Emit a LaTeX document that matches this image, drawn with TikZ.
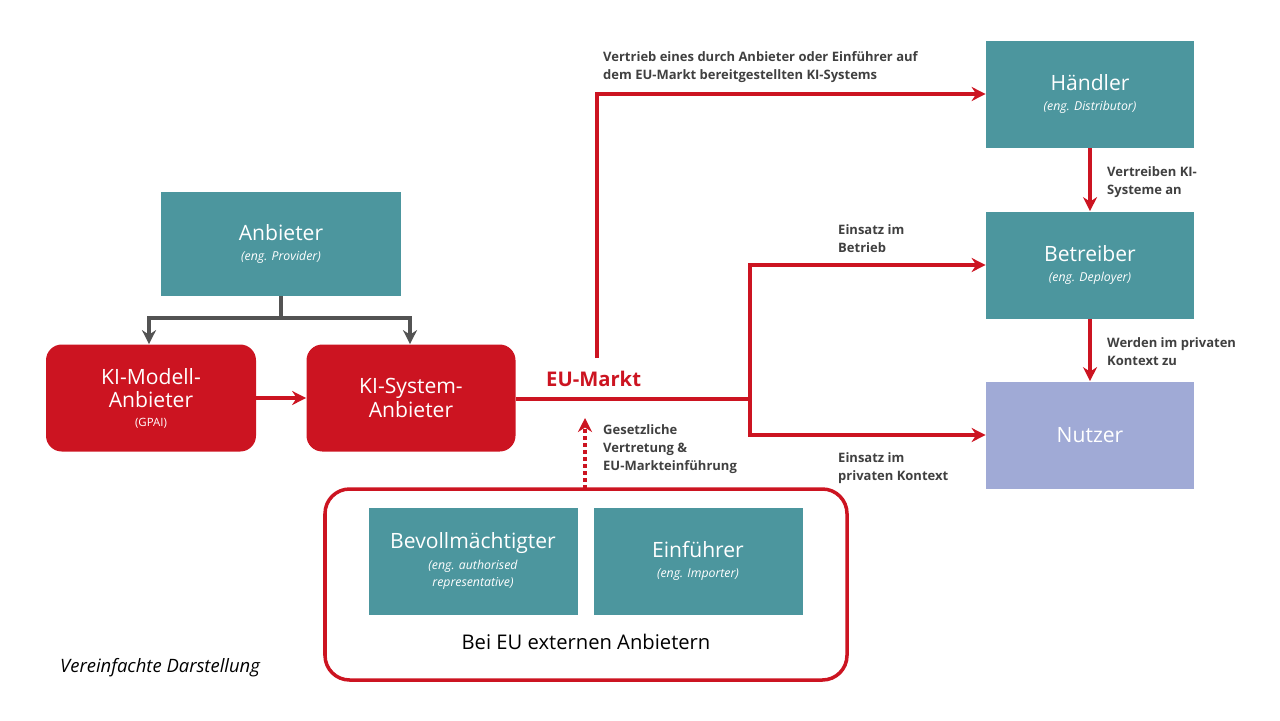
\documentclass[tikz,border=0pt]{standalone}
\usepackage{fontspec}
\setmainfont{Open Sans}
\usetikzlibrary{arrows.meta}
\definecolor{teal}{HTML}{4C969E}
\definecolor{kired}{HTML}{CC1421}
\definecolor{lav}{HTML}{A0AAD6}
\definecolor{txt}{HTML}{404040}
\newcommand\subtx{\fontsize{7}{8.5}\selectfont\itshape}
\begin{document}
\begin{tikzpicture}[x=0.02cm,y=-0.02cm,
 box/.style={fill=teal,draw=none,text=white,align=center,font=\fontsize{12}{13}\selectfont},
 rbox/.style={fill=kired,draw=none,rounded corners=9pt,text=white,align=center,font=\fontsize{12}{13.5}\selectfont},
 lab/.style={anchor=north west,align=left,text=txt,font=\fontsize{7.4}{10.5}\selectfont\bfseries},
 rl/.style={draw=kired,line width=2pt,-{Stealth[length=8pt,width=8pt]}},
 gl/.style={draw=txt!90,line width=2pt,-{Stealth[length=8pt,width=8pt]}}]
\useasboundingbox (0,0) rectangle (1280,720);
\node[box,minimum width=240*0.02cm,minimum height=104*0.02cm] (anb) at (281,244) {Anbieter\\[-2pt]{\subtx(eng. Provider)}};
\node[rbox,minimum width=210*0.02cm,minimum height=107*0.02cm] (mod) at (151,398) {KI-Modell-\\Anbieter\\[-3pt]{\fontsize{6.5}{7}\selectfont(GPAI)}};
\node[rbox,minimum width=209*0.02cm,minimum height=107*0.02cm] (sys) at (411,398) {KI-System-\\Anbieter};
\node[box,minimum width=208*0.02cm,minimum height=107*0.02cm] (hae) at (1090,94) {Händler\\[-2pt]{\subtx(eng. Distributor)}};
\node[box,minimum width=208*0.02cm,minimum height=107*0.02cm] (bet) at (1090,265) {Betreiber\\[-2pt]{\subtx(eng. Deployer)}};
\node[box,fill=lav,minimum width=208*0.02cm,minimum height=107*0.02cm] (nut) at (1090,435) {Nutzer};
\draw[draw=kired,line width=2pt,rounded corners=14pt] (325,489) rectangle (847,680);
\node[box,minimum width=209*0.02cm,minimum height=107*0.02cm] (bev) at (473,561) {Bevollmächtigter\\[-1pt]{\subtx (eng. authorised}\\[-3pt]{\subtx representative)}};
\node[box,minimum width=209*0.02cm,minimum height=107*0.02cm] (ein) at (698,561) {Einführer\\[-2pt]{\subtx(eng. Importer)}};
\node[font=\fontsize{11.5}{12}\selectfont] (bei) at (586,642) {Bei EU externen Anbietern};
\node[font=\fontsize{10.5}{12}\selectfont\itshape,anchor=west] (ver) at (54,668) {Vereinfachte Darstellung};
% gray
\coordinate (g0) at (281,318);
\draw[draw=txt!90,line width=2pt] (anb.south) -- (g0);
\draw[gl] (g0) -| (mod.north-|149,0);
\draw[gl] (g0) -| (sys.north-|410,0);
% red
\draw[rl] (mod.east) -- (sys.west);
\coordinate (j) at (750,399);
\draw[draw=kired,line width=2pt] (sys.east|-j) -- (j);
\node[text=kired,font=\fontsize{11.5}{12}\selectfont\bfseries,anchor=west] (eu) at (540,379) {EU-Markt};
\coordinate (v0) at (597,358);
\draw[rl] (v0) |- (hae.west);
\draw[rl] (j) |- (bet.west);
\draw[rl] (j) |- (nut.west);
\draw[rl] (hae.south) -- (bet.north);
\draw[rl] (bet.south) -- (nut.north);
\coordinate (d0) at (585,489);
\draw[draw=kired,line width=2pt,dotted,-{Stealth[length=8pt,width=8pt]}] (d0) -- (585,418);
% labels
\node[lab] at (597,45) {Vertrieb eines durch Anbieter oder Einführer auf\\dem EU-Markt bereitgestellten KI-Systems};
\node[lab] at (832,218) {Einsatz im\\Betrieb};
\node[lab] at (832,446) {Einsatz im\\privaten Kontext};
\node[lab] at (1101,160) {Vertreiben KI-\\Systeme an};
\node[lab] at (1101,331) {Werden im privaten\\Kontext zu};
\node[lab] at (597,418) {Gesetzliche\\Vertretung \&\\EU-Markteinführung};
\end{tikzpicture}
\end{document}
